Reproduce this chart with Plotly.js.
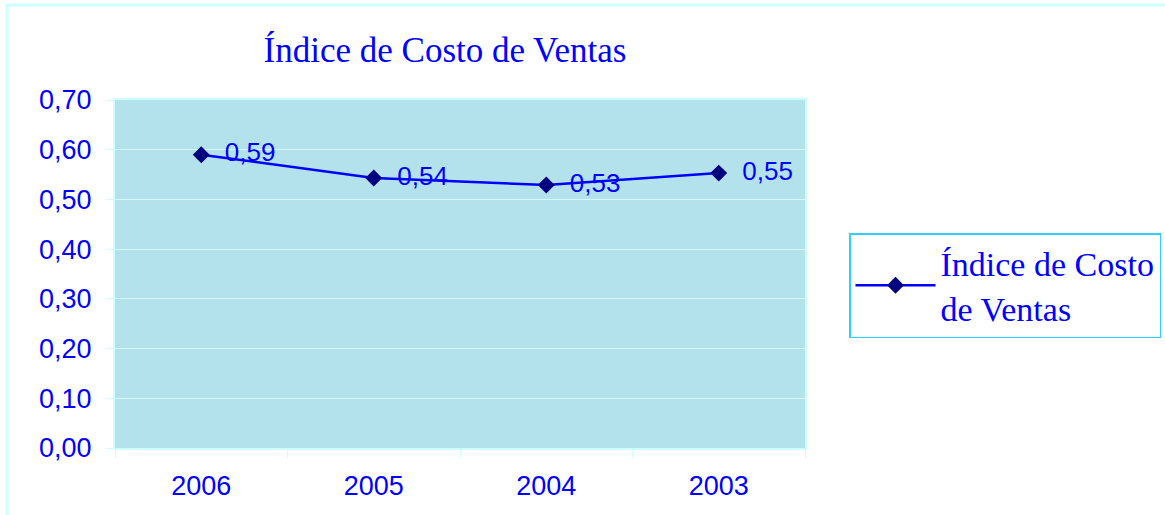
<!DOCTYPE html>
<html>
<head>
<meta charset="utf-8">
<script src="https://cdn.plot.ly/plotly-3.0.1.min.js"></script>
<style>
html,body{margin:0;padding:0;background:#ffffff;}
#chart{width:1165px;height:515px;}
</style>
</head>
<body>
<div id="chart"></div>
<script>
var years = ["2006", "2005", "2004", "2003"];
var indiceCosto = [0.59, 0.543, 0.529, 0.553];
var seriesName = "Índice de Costo<br>de Ventas";
var chartTitle = "Índice de Costo de Ventas";
var yTicks = [0, 0.1, 0.2, 0.3, 0.4, 0.5, 0.6, 0.7];

var trace = {
  x: years,
  y: indiceCosto,
  type: "scatter",
  mode: "lines+markers+text",
  name: seriesName,
  line: {color: "#0000ff", width: 2.5},
  marker: {symbol: "diamond", size: 13, color: "#000080", line: {width: 0}},
  texttemplate: "  %{y:.2f}",
  textposition: "middle right",
  textfont: {family: "Liberation Sans, Arial, sans-serif", size: 26, color: "#0000ff"},
  cliponaxis: false
};

var layout = {
  width: 1165,
  height: 515,
  separators: ",.",
  paper_bgcolor: "#ffffff",
  plot_bgcolor: "#b4e2ec",
  margin: {l: 115, r: 360, t: 100, b: 67, pad: 0, autoexpand: false},
  showlegend: true,
  title: {
    text: chartTitle,
    font: {family: "Liberation Serif, Times New Roman, serif", size: 35, color: "#0000ff"},
    x: 445 / 1165, xanchor: "center", xref: "container",
    y: 1 - 50 / 515, yanchor: "middle", yref: "container"
  },
  xaxis: {
    type: "category",
    range: [-0.5, years.length - 0.5],
    tickson: "boundaries",
    ticks: "outside",
    ticklen: 8,
    tickcolor: "#ccffff",
    tickwidth: 1,
    showgrid: false,
    showline: true,
    linecolor: "#ccffff",
    linewidth: 2,
    mirror: true,
    zeroline: false,
    ticklabelstandoff: 13,
    tickfont: {family: "Liberation Sans, Arial, sans-serif", size: 27, color: "#0000ff"}
  },
  yaxis: {
    range: [0, 0.7],
    tickvals: yTicks,
    tickformat: ".2f",
    ticks: "outside",
    ticklen: 8,
    tickcolor: "#ccffff",
    tickwidth: 1,
    showgrid: true,
    gridcolor: "#d6f7fb",
    gridwidth: 1,
    showline: true,
    linecolor: "#ccffff",
    linewidth: 2,
    mirror: true,
    zeroline: false,
    ticklabelstandoff: 8,
    tickfont: {family: "Liberation Sans, Arial, sans-serif", size: 27, color: "#0000ff"}
  },
  legend: {
    x: (849 - 115) / 690,
    xanchor: "left",
    y: (448 - 233) / 348,
    yanchor: "top",
    bgcolor: "#ffffff",
    bordercolor: "#33ccff",
    borderwidth: 1.5,
    itemwidth: 80,
    font: {family: "Liberation Serif, Times New Roman, serif", size: 34, color: "#0000ff"}
  },
  shapes: [{
    type: "rect",
    xref: "paper", yref: "paper",
    x0: (7 - 115) / 690, x1: (1175 - 115) / 690,
    y0: (448 - 525) / 348, y1: (448 - 5) / 348,
    line: {color: "#ccffff", width: 3},
    fillcolor: "rgba(0,0,0,0)",
    layer: "above"
  }]
};

Plotly.newPlot("chart", [trace], layout, {displayModeBar: false, staticPlot: true});
</script>
</body>
</html>
